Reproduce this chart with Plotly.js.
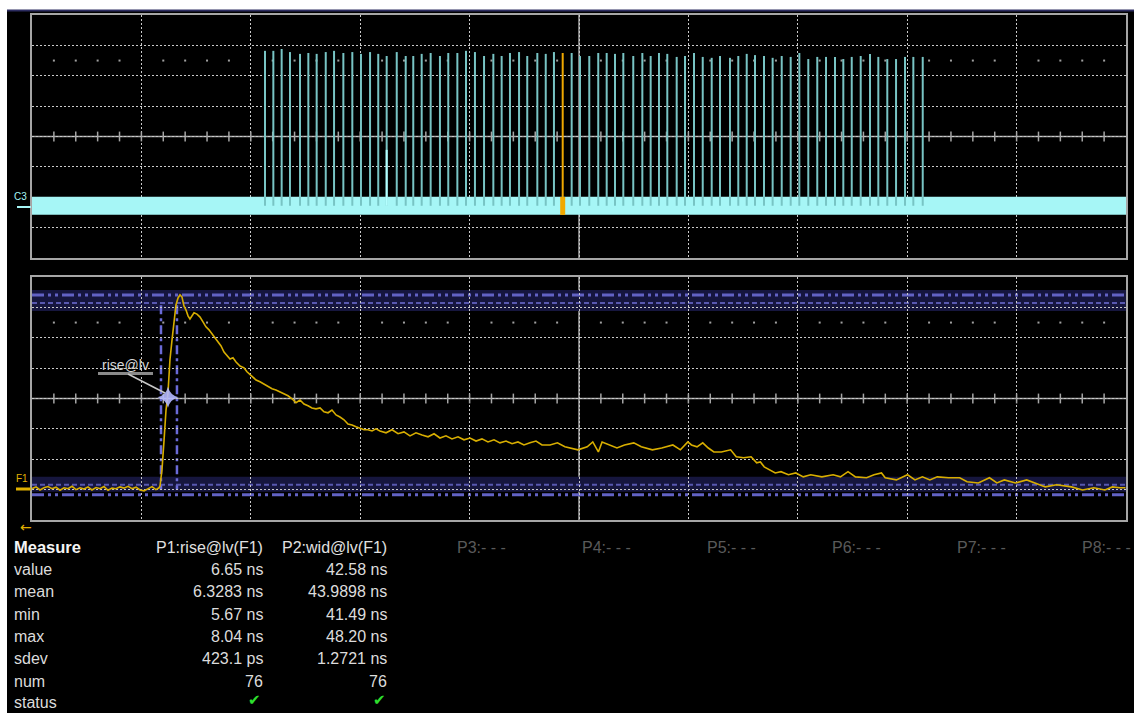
<!DOCTYPE html>
<html>
<head>
<meta charset="utf-8">
<script src="https://cdn.plot.ly/plotly-3.0.1.min.js"></script>
<style>html,body{margin:0;padding:0;background:#ffffff;}#chart{width:1134px;height:713px;}</style>
</head>
<body>
<div id="chart"></div>
<script>
// ================= DATA (units: screen divisions, 10 x 8) =================
// C3 channel: burst of pulses (time of each pulse, peak level)
const spikeTimes = [2.130,2.206,2.282,2.358,2.450,2.526,2.602,2.685,2.761,2.846,2.928,3.007,3.090,3.165,3.242,3.334,3.416,3.485,3.562,3.644,3.729,3.805,3.888,3.967,4.049,4.132,
  4.217,4.293,4.369,4.452,4.527,4.619,4.696,4.771,4.851,4.933,5.009,5.094,5.176,5.253,5.329,5.405,5.496,5.579,5.655,5.731,5.807,5.893,5.969,6.051,6.131,
  6.213,6.289,6.380,6.456,6.533,6.609,6.691,6.770,6.853,6.935,7.014,7.096,7.178,7.258,7.340,7.416,7.493,7.575,7.660,7.736,7.818,7.898,7.980,8.056,8.142];
const spikeTops = [2.82,2.82,2.88,2.78,2.72,2.75,2.72,2.78,2.82,2.75,2.78,2.72,2.78,2.72,2.65,2.78,2.65,2.65,2.72,2.75,2.65,2.75,2.75,2.82,2.78,2.65,
  2.72,2.65,2.75,2.78,2.65,2.75,2.72,2.78,2.75,2.75,2.65,2.65,2.75,2.75,2.72,2.75,2.65,2.75,2.65,2.75,2.72,2.62,2.65,2.75,2.62,
  2.59,2.65,2.59,2.65,2.72,2.68,2.65,2.59,2.65,2.62,2.75,2.55,2.62,2.62,2.62,2.55,2.62,2.65,2.72,2.62,2.55,2.55,2.62,2.62,2.62];
const currentSweepIndex = 34;          // highlighted (latest) acquisition
const partialSpikeTime = [3.242];
const partialSpikeTop = [-0.44];
const c3Baseline = -2.28;
const c3BandLow = -2.58, c3BandHigh = -1.99;
const triggerTime = 2.13;
const triggerLevel = -1.03;

// F1 trace (zoomed single pulse)
const f1Time = [0,0.037,0.073,0.110,0.146,0.183,0.219,0.256,0.293,0.329,0.366,0.402,0.439,0.475,0.512,0.548,0.585,0.622,0.658,0.695,0.731,0.768,0.804,0.841,0.878,0.914,0.951,0.987,1.024,1.060,1.097,1.133,1.161,
  1.170,1.188,1.207,1.225,1.243,1.261,1.280,1.298,1.316,1.335,1.353,1.371,1.389,1.408,1.426,1.444,1.463,1.481,1.508,1.536,1.563,1.590,1.618,1.645,1.673,1.700,1.728,1.755,1.782,1.810,1.837,1.865,1.901,1.938,1.965,1.993,
  2.020,2.048,2.084,2.121,2.157,2.194,2.230,2.267,2.303,2.340,2.377,2.413,2.450,2.486,2.523,2.559,2.596,2.633,2.669,2.706,2.742,2.779,2.815,2.852,2.888,2.925,2.962,2.998,3.035,3.071,3.108,3.144,3.181,
  3.236,3.291,3.346,3.400,3.455,3.510,3.565,3.620,3.675,3.729,3.784,3.839,3.894,3.949,4.004,4.059,4.113,4.168,4.223,4.278,4.333,4.388,4.442,4.497,4.552,4.607,4.662,
  4.735,4.803,4.871,4.990,5.075,5.126,5.177,5.211,5.280,5.347,5.416,5.501,5.569,5.671,5.756,5.858,5.927,5.995,6.028,6.079,6.131,6.182,6.233,6.301,6.386,6.437,6.505,6.573,6.624,6.658,6.693,6.743,6.794,6.846,6.914,6.982,
  7.050,7.118,7.220,7.323,7.390,7.459,7.527,7.629,7.697,7.765,7.799,7.901,8.003,8.071,8.139,8.207,8.275,8.377,8.480,8.547,8.650,8.752,8.820,8.888,8.990,9.092,9.161,9.263,9.365,9.501,9.603,9.706,9.807,9.876,9.943,9.995];
const f1Value = [-2.97,-2.91,-3.01,-2.94,-2.90,-2.97,-2.92,-3.02,-2.94,-2.97,-2.89,-3.00,-2.94,-2.98,-2.91,-3.01,-2.93,-2.97,-2.90,-3.02,-2.95,-2.97,-2.91,-2.95,-2.89,-2.97,-2.92,-3.01,-3.04,-2.97,-2.90,-3.00,-2.94,
  -2.88,-2.35,-1.37,-0.38,0.18,1.27,1.93,2.59,3.08,3.31,3.41,3.34,3.05,2.91,2.72,2.62,2.72,2.82,2.78,2.68,2.52,2.36,2.26,2.13,1.99,1.86,1.73,1.53,1.40,1.30,1.34,1.20,1.07,1.01,0.88,0.78,
  0.71,0.61,0.55,0.48,0.41,0.32,0.28,0.22,0.15,0.09,-0.01,-0.14,-0.05,-0.18,-0.24,-0.31,-0.34,-0.31,-0.44,-0.47,-0.38,-0.54,-0.61,-0.70,-0.84,-0.87,-0.93,-0.97,-1.03,-1.03,-1.07,-1.00,-1.07,
  -1.13,-1.03,-1.16,-1.10,-1.23,-1.13,-1.20,-1.26,-1.16,-1.30,-1.23,-1.33,-1.26,-1.36,-1.30,-1.40,-1.33,-1.43,-1.36,-1.46,-1.40,-1.49,-1.43,-1.53,-1.46,-1.40,-1.53,
  -1.53,-1.46,-1.59,-1.69,-1.59,-1.43,-1.76,-1.43,-1.53,-1.63,-1.53,-1.46,-1.59,-1.69,-1.63,-1.53,-1.69,-1.43,-1.53,-1.59,-1.46,-1.63,-1.76,-1.76,-1.69,-1.92,-1.95,-1.92,-2.12,-2.09,-2.25,-2.35,-2.45,-2.41,-2.51,-2.45,
  -2.58,-2.51,-2.58,-2.51,-2.58,-2.41,-2.58,-2.61,-2.51,-2.45,-2.61,-2.68,-2.51,-2.68,-2.58,-2.68,-2.58,-2.61,-2.61,-2.74,-2.78,-2.61,-2.78,-2.68,-2.78,-2.68,-2.78,-2.91,-2.84,-2.91,-3.01,-2.94,-3.01,-2.91,-2.94,-2.94];

const riseMarkerTime = [1.243];
const riseMarkerValue = [0.04];
const cursorTimes = [1.179, 1.325];
const cursorSpan = [3.07, -3.0];
const topBand = [2.88, 3.57], topDashDot = 3.41, topDashed = 3.14;
const baseBand = [-3.07, -2.58], baseDashed = -2.84, baseDashDot = -3.17;

// Measurement table
const measureRows = ['value','mean','min','max','sdev','num','status'];
const p1Header = 'P1:rise@lv(F1)';
const p2Header = 'P2:wid@lv(F1)';
const p1Values = ['6.65 ns','6.3283 ns','5.67 ns','8.04 ns','423.1 ps','76'];
const p2Values = ['42.58 ns','43.9898 ns','41.49 ns','48.20 ns','1.2721 ns','76'];
const emptyParams = ['P3:- - -','P4:- - -','P5:- - -','P6:- - -','P7:- - -','P8:- - -'];

// ================= LAYOUT HELPERS =================
const W = 1134, H = 713;
const PX = v => v / W;
const PY = v => 1 - v / H;
const FONT = 'Liberation Sans, Arial, sans-serif';

// sub-division tick positions (grid decoration)
const subTicks = [];
for (let i = 1; i < 50; i++) { if (i % 5 !== 0) subTicks.push(i / 5); }
const centerTicks = [];
for (let i = 1; i < 50; i++) { if (i !== 25) centerTicks.push(i / 5); }

function gridAxis(domain, anchor, range) {
  return {domain, anchor, range, showgrid: true, dtick: 1, tick0: range[0], gridcolor: '#cacaca', griddash: '2px,2px',
    gridwidth: 1, showline: true, mirror: true, linecolor: '#a6a6a6', linewidth: 2, zeroline: false,
    showticklabels: false, ticks: '', fixedrange: true};
}

const traces = [];
['', '2'].forEach(s => {
  traces.push({x: centerTicks, y: centerTicks.map(() => 0), xaxis: 'x' + s, yaxis: 'y' + s, mode: 'markers',
    marker: {symbol: 'line-ns-open', size: 7, color: '#a6a6a6', line: {color: '#a6a6a6', width: 1.5}}, hoverinfo: 'skip'});
  traces.push({x: subTicks, y: subTicks.map(() => 2.5), xaxis: 'x' + s, yaxis: 'y' + s, mode: 'markers',
    marker: {symbol: 'square', size: 2, color: '#a0a0a0', line: {width: 0}}, hoverinfo: 'skip'});
});

// C3 baseline band
traces.push({x: [0, 10], y: [c3Baseline, c3Baseline], xaxis: 'x', yaxis: 'y', mode: 'lines',
  line: {color: '#a6f6f6', width: 18}, hoverinfo: 'skip'});
// C3 pulses
const sx = [], sy = [];
spikeTimes.forEach((t, i) => { if (i !== currentSweepIndex) { sx.push(t, t, null); sy.push(c3Baseline, spikeTops[i], null); } });
traces.push({x: sx, y: sy, xaxis: 'x', yaxis: 'y', mode: 'lines', line: {color: '#78c4c4', width: 2}, hoverinfo: 'skip'});
traces.push({x: [partialSpikeTime[0], partialSpikeTime[0]], y: [c3Baseline, partialSpikeTop[0]], xaxis: 'x', yaxis: 'y', mode: 'lines',
  line: {color: '#b4ffff', width: 2}, hoverinfo: 'skip'});
// highlighted acquisition
const ct = spikeTimes[currentSweepIndex];
traces.push({x: [ct, ct], y: [c3BandLow, spikeTops[currentSweepIndex]], xaxis: 'x', yaxis: 'y', mode: 'lines',
  line: {color: '#f0a800', width: 2}, hoverinfo: 'skip'});
traces.push({x: [ct, ct], y: [c3BandLow, c3BandHigh], xaxis: 'x', yaxis: 'y', mode: 'lines',
  line: {color: '#f0a800', width: 5}, hoverinfo: 'skip'});
// trigger markers
traces.push({x: [triggerTime], y: [-4.26], xaxis: 'x', yaxis: 'y', mode: 'markers', cliponaxis: false,
  marker: {symbol: 'triangle-up', size: 9, color: '#a6f6f6'}, hoverinfo: 'skip'});
traces.push({x: [10.04], y: [triggerLevel], xaxis: 'x', yaxis: 'y', mode: 'markers', cliponaxis: false,
  marker: {symbol: 'triangle-left', size: 8, color: '#a6f6f6'}, hoverinfo: 'skip'});

// F1 trace
traces.push({x: f1Time, y: f1Value, xaxis: 'x2', yaxis: 'y2', mode: 'lines',
  line: {color: '#d8ae00', width: 1.6}, hoverinfo: 'skip'});
traces.push({x: riseMarkerTime, y: riseMarkerValue, xaxis: 'x2', yaxis: 'y2', mode: 'markers',
  marker: {symbol: 'star-diamond', size: 15, color: '#b4b8ff', opacity: 0.9, line: {width: 0}}, hoverinfo: 'skip'});

// ================= SHAPES =================
const shapes = [];
shapes.push({type: 'rect', xref: 'paper', yref: 'paper', x0: PX(7), x1: 1, y0: 0, y1: PY(11), fillcolor: '#000000', line: {width: 0}, layer: 'below'});
shapes.push({type: 'line', xref: 'paper', yref: 'paper', x0: PX(7), x1: 1, y0: PY(10.5), y1: PY(10.5), line: {color: '#2c2c60', width: 2}});
['', '2'].forEach(s => {
  shapes.push({type: 'line', xref: 'x' + s, yref: 'y' + s, x0: 0, x1: 10, y0: 0, y1: 0, line: {color: '#a6a6a6', width: 1.5}, layer: 'below'});
  shapes.push({type: 'line', xref: 'x' + s, yref: 'y' + s, x0: 5, x1: 5, y0: -4, y1: 4, line: {color: '#a6a6a6', width: 1.5}, layer: 'below'});
});
// level bands
[topBand, baseBand].forEach(b => shapes.push({type: 'rect', xref: 'x2', yref: 'y2', x0: 0, x1: 10, y0: b[0], y1: b[1],
  fillcolor: '#16163e', line: {width: 0}, layer: 'below'}));
shapes.push({type: 'line', xref: 'x2', yref: 'y2', x0: 0, x1: 10, y0: topDashDot, y1: topDashDot, line: {color: '#6262c4', width: 3, dash: '12px,4px,3px,4px,3px,4px'}, layer: 'below'});
shapes.push({type: 'line', xref: 'x2', yref: 'y2', x0: 0, x1: 10, y0: topDashed, y1: topDashed, line: {color: '#5858b0', width: 2, dash: '5px,3px'}, layer: 'below'});
shapes.push({type: 'line', xref: 'x2', yref: 'y2', x0: 0, x1: 10, y0: baseDashed, y1: baseDashed, line: {color: '#5858b0', width: 2, dash: '5px,3px'}, layer: 'below'});
shapes.push({type: 'line', xref: 'x2', yref: 'y2', x0: 0, x1: 10, y0: baseDashDot, y1: baseDashDot, line: {color: '#6262c4', width: 3, dash: '12px,4px,3px,4px,3px,4px'}, layer: 'below'});
cursorTimes.forEach(t => shapes.push({type: 'line', xref: 'x2', yref: 'y2', x0: t, x1: t, y0: cursorSpan[0], y1: cursorSpan[1],
  line: {color: '#6a6ad6', width: 2.5, dash: '9px,4px,3px,4px'}, layer: 'below'}));
// rise@lv callout
shapes.push({type: 'rect', xref: 'paper', yref: 'paper', x0: PX(98), x1: PX(153), y0: PY(375), y1: PY(372), fillcolor: '#8a8a8a', line: {width: 0}});
shapes.push({type: 'line', xref: 'paper', yref: 'paper', x0: PX(128), y0: PY(374), x1: PX(165), y1: PY(393), line: {color: '#c8c8c8', width: 1.5}});
// channel markers
shapes.push({type: 'line', xref: 'paper', yref: 'paper', x0: PX(17), x1: PX(31), y0: PY(207), y1: PY(207), line: {color: '#a6f6f6', width: 2}});
shapes.push({type: 'line', xref: 'paper', yref: 'paper', x0: PX(16), x1: PX(31), y0: PY(489), y1: PY(489), line: {color: '#e0b000', width: 3}});

// ================= ANNOTATIONS =================
const ann = [];
function txt(text, x, y, anchor, size, color, family) {
  ann.push({text, xref: 'paper', yref: 'paper', x: PX(x), y: PY(y), xanchor: anchor, yanchor: 'middle',
    showarrow: false, font: {family: family || FONT, size, color}});
}
txt('C3', 12, 196, 'left', 10, '#a6f6f6');
txt('F1', 14, 479, 'left', 10, '#e0b000');
txt('←', 18, 527, 'left', 14, '#e0b000', 'DejaVu Sans');
txt('rise@lv', 125, 365, 'center', 14, '#d8d8d8');
txt('<b>Measure</b>', 12, 547, 'left', 16.5, '#f4f4f4');
txt(p1Header, 265, 547, 'right', 16, '#e0e0e0');
txt(p2Header, 389, 547, 'right', 16, '#e0e0e0');
const emptyX = [455, 580, 705, 830, 955, 1080];
emptyParams.forEach((p, i) => txt(p, emptyX[i], 547, 'left', 16, '#5a5a5a'));
const rowY = [569.5, 591.5, 614, 636, 658.5, 681, 702];
measureRows.forEach((r, i) => {
  txt(r, 12, rowY[i], 'left', 16, '#dcdcdc');
  if (i < p1Values.length) {
    txt(p1Values[i], 265, rowY[i], 'right', 16, '#dcdcdc');
    txt(p2Values[i], 389, rowY[i], 'right', 16, '#dcdcdc');
  } else {
    txt('✔', 254, 700, 'center', 15, '#2ee02e', 'DejaVu Sans');
    txt('✔', 379, 700, 'center', 15, '#2ee02e', 'DejaVu Sans');
  }
});

const layout = {
  width: W, height: H, margin: {l: 0, r: 0, t: 0, b: 0, pad: 0},
  paper_bgcolor: '#ffffff', plot_bgcolor: '#000000', showlegend: false,
  xaxis: gridAxis([PX(32), PX(1126)], 'y', [0, 10]),
  yaxis: gridAxis([PY(258), PY(15)], 'x', [-4, 4]),
  xaxis2: gridAxis([PX(32), PX(1126)], 'y2', [0, 10]),
  yaxis2: gridAxis([PY(520), PY(277)], 'x2', [-4, 4]),
  shapes, annotations: ann
};
Plotly.newPlot('chart', traces, layout, {displayModeBar: false, staticPlot: true});
</script>
</body>
</html>
